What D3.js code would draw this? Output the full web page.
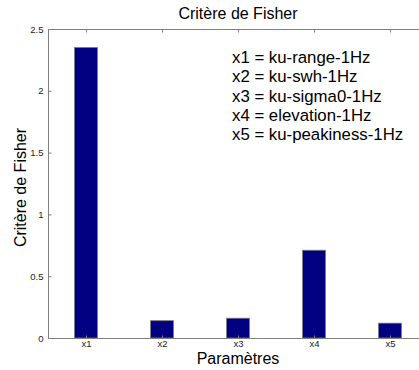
<!DOCTYPE html>
<html><head><meta charset="utf-8">
<script src="https://cdn.jsdelivr.net/npm/d3@7"></script>
<style>body{margin:0;background:#fff;}svg{display:block;font-family:"Liberation Sans",Arial,sans-serif;}</style>
</head><body><div id="chart"></div>
<script>
const categories = ["x1","x2","x3","x4","x5"];
const values = [2.35, 0.14, 0.16, 0.71, 0.12];
const yTicks = [0, 0.5, 1, 1.5, 2, 2.5];
const legendLines = ["x1 = ku-range-1Hz","x2 = ku-swh-1Hz","x3 = ku-sigma0-1Hz","x4 = elevation-1Hz","x5 = ku-peakiness-1Hz"];

const W = 419, H = 370;
const m = {left: 48, top: 29, right: -9, bottom: 32};
const svg = d3.select("#chart").append("svg").attr("width", W).attr("height", H);
const x = d3.scaleLinear().domain([0.5, 5.5]).range([m.left, W - m.right]);
const y = d3.scaleLinear().domain([0, 2.5]).range([H - m.bottom, m.top]);
const axisCol = "#808080";
const ff = "Liberation Sans, Arial, sans-serif";

// bars
const bw = x(1.3) - x(1);
svg.append("g").selectAll("rect").data(values).join("rect")
  .attr("x", (d,i) => x(i+1) - bw/2)
  .attr("y", d => y(d))
  .attr("width", bw)
  .attr("height", d => y(0) - y(d))
  .attr("fill", "#000080")
  .attr("stroke", "#777").attr("stroke-width", 0.8);

// axes frame
const g = svg.append("g");
g.append("line").attr("x1", x(0.5)).attr("x2", x(5.5)).attr("y1", y(0)+0.5).attr("y2", y(0)+0.5).attr("stroke", axisCol);
g.append("line").attr("x1", x(0.5)).attr("x2", x(5.5)).attr("y1", y(2.5)+0.5).attr("y2", y(2.5)+0.5).attr("stroke", axisCol);
g.append("line").attr("x1", x(0.5)+0.5).attr("x2", x(0.5)+0.5).attr("y1", y(0)).attr("y2", y(2.5)).attr("stroke", axisCol);

// left axis ticks (inside)
const yAxis = d3.axisLeft(y).tickValues(yTicks).tickSize(-3).tickPadding(5).tickFormat(d3.format("~g"));
const ya = svg.append("g").attr("transform", `translate(${x(0.5)+0.5},0)`).call(yAxis);
ya.select(".domain").remove();
ya.selectAll("line").attr("stroke", axisCol);
ya.selectAll("text").attr("font-size", 9.5).attr("fill", "#222").attr("font-family", ff);

// bottom axis labels
const xAxis = d3.axisBottom(x).tickValues([1,2,3,4,5]).tickSize(-3).tickPadding(2).tickFormat((d,i) => categories[i]);
const xa = svg.append("g").attr("transform", `translate(0,${y(0)+0.5})`).call(xAxis);
xa.select(".domain").remove();
xa.selectAll("line").attr("stroke", axisCol);
xa.selectAll("text").attr("font-size", 9.5).attr("fill", "#222").attr("font-family", ff);

// top ticks (inside)
const xTop = d3.axisTop(x).tickValues([1,2,3,4,5]).tickSize(-3).tickFormat("");
const xt = svg.append("g").attr("transform", `translate(0,${y(2.5)+0.5})`).call(xTop);
xt.select(".domain").remove();
xt.selectAll("line").attr("stroke", axisCol);

const cx = (x(0.5) + x(5.5)) / 2;
svg.append("text").attr("x", cx).attr("y", 19).attr("text-anchor", "middle")
  .attr("font-size", 16).attr("fill", "#000").text("Critère de Fisher");
svg.append("text").attr("x", cx).attr("y", 364).attr("text-anchor", "middle")
  .attr("font-size", 16).attr("fill", "#000").text("Paramètres");
svg.append("text").attr("transform", `translate(26,${(y(0)+y(2.5))/2 + 4}) rotate(-90)`).attr("text-anchor", "middle")
  .attr("font-size", 16).attr("fill", "#000").text("Critère de Fisher");

svg.append("g").selectAll("text").data(legendLines).join("text")
  .attr("x", 232).attr("y", (d,i) => 63 + i*19.3)
  .attr("font-size", 16.8).attr("fill", "#000").text(d => d);
</script></body></html>
